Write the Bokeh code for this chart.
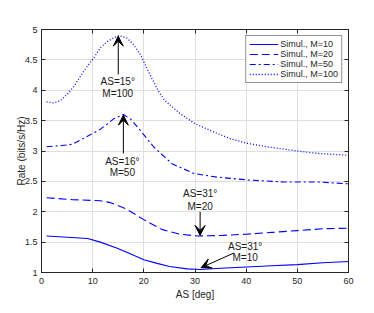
from bokeh.plotting import figure
from bokeh.models import (Range1d, LinearAxis, Arrow, VeeHead, Legend, LegendItem,
                          CustomJSTickFormatter, FixedTicker, ColumnDataSource)
from bokeh.core.properties import value
from bokeh.embed import file_html
from bokeh.resources import INLINE

# ---- data ----
as_10 = [1, 5, 9, 11.5, 14.8, 17, 20, 22.6, 25, 28.5, 31, 35, 40, 45, 50, 55, 60]
rate_10 = [1.6, 1.58, 1.56, 1.5, 1.4, 1.32, 1.21, 1.15, 1.1, 1.06, 1.05, 1.07, 1.09, 1.11, 1.13, 1.16, 1.18]

as_20 = [1, 6, 11.5, 13.5, 16.7, 20, 23.5, 27, 30.5, 35, 40, 45, 50, 55, 60]
rate_20 = [2.23, 2.2, 2.18, 2.15, 2.04, 1.87, 1.71, 1.63, 1.6, 1.61, 1.63, 1.66, 1.69, 1.72, 1.73]

as_50 = [1, 4, 6, 9.6, 11.5, 12.8, 14.1, 16, 17.5, 19.3, 21.9, 25.5, 29.8, 34.3, 40.8, 47.3, 53.8, 60]
rate_50 = [3.07, 3.09, 3.11, 3.27, 3.36, 3.44, 3.53, 3.6, 3.52, 3.34, 3.07, 2.79, 2.63, 2.57, 2.52, 2.49, 2.49, 2.46]

as_100 = [1, 2.4, 3.7, 5, 6.3, 7.6, 8.9, 10.2, 11.5, 12.8, 14.1, 15.1, 16.7, 18, 19.3, 21.3, 22.9,
          24, 27, 30, 34.3, 37, 40, 44, 50, 54, 60]
rate_100 = [3.81, 3.79, 3.83, 3.93, 4.06, 4.23, 4.39, 4.53, 4.7, 4.8, 4.86, 4.9, 4.86, 4.75, 4.59, 4.24, 3.98,
            3.84, 3.62, 3.45, 3.29, 3.2, 3.13, 3.07, 3.0, 2.96, 2.93]

series_labels = ["Simul., M=10", "Simul., M=20", "Simul., M=50", "Simul., M=100"]

x_ticks = [0, 10, 20, 30, 40, 50, 60]
y_ticks = [1, 1.5, 2, 2.5, 3, 3.5, 4, 4.5, 5]

# annotations: text lines and arrows (data coordinates)
ann_text = ["AS=15°", "M=100", "AS=16°", "M=50", "AS=31°", "M=20", "AS=31°", "M=10"]
ann_x = [14.9, 14.9, 15.8, 15.8, 31, 31, 39.8, 39.8]
ann_y = [4.14, 3.95, 2.83, 2.65, 2.30, 2.09, 1.43, 1.24]
arr_x0 = [15, 16, 31, 37.6]
arr_y0 = [4.26, 2.96, 2.0, 1.32]
arr_x1 = [15, 16, 31, 31.2]
arr_y1 = [4.89, 3.59, 1.61, 1.08]

FONT = "Liberation Sans"
AX = "#262626"
BLUE = "#0000ff"

p = figure(frame_width=307, frame_height=243, output_backend="svg", toolbar_location=None,
           x_range=Range1d(0, 60), y_range=Range1d(1, 5),
           min_border_left=41, min_border_right=10, min_border_top=29, min_border_bottom=30)
p.background_fill_color = "white"
p.border_fill_color = "white"
p.outline_line_color = AX
p.outline_line_width = 1

for ax in (p.xaxis[0], p.yaxis[0]):
    ax.major_tick_in = 4
    ax.major_tick_out = 0
    ax.minor_tick_in = 0
    ax.minor_tick_out = 0
    ax.axis_line_color = AX
    ax.major_tick_line_color = AX
    ax.major_label_text_font = FONT
    ax.major_label_text_font_size = "9px"
    ax.major_label_text_color = AX
    ax.axis_label_text_font = FONT
    ax.axis_label_text_font_size = "10px"
    ax.axis_label_text_font_style = "normal"
    ax.axis_label_text_color = AX

p.xaxis[0].ticker = FixedTicker(ticks=x_ticks)
p.yaxis[0].ticker = FixedTicker(ticks=y_ticks)
p.xaxis[0].axis_label = "AS [deg]"
p.yaxis[0].axis_label = "Rate (bits/s/Hz)"
p.xaxis[0].major_label_standoff = 5
p.yaxis[0].major_label_standoff = 4
p.xaxis[0].axis_label_standoff = 2
p.yaxis[0].axis_label_standoff = -5

# box ticks on top and right
empty = CustomJSTickFormatter(code="return ''")
top = LinearAxis(ticker=FixedTicker(ticks=x_ticks), formatter=empty,
                 major_tick_in=4, major_tick_out=0, minor_tick_in=0, minor_tick_out=0,
                 axis_line_color=AX, major_tick_line_color=AX, major_label_standoff=0)
right = LinearAxis(ticker=FixedTicker(ticks=y_ticks), formatter=empty,
                   major_tick_in=4, major_tick_out=0, minor_tick_in=0, minor_tick_out=0,
                   axis_line_color=AX, major_tick_line_color=AX, major_label_standoff=0)
p.add_layout(top, "above")
p.add_layout(right, "right")

p.xgrid.ticker = FixedTicker(ticks=x_ticks)
p.ygrid.ticker = FixedTicker(ticks=y_ticks)
p.grid.grid_line_color = "#dfdfdf"
p.grid.grid_line_width = 1

r10 = p.line(as_10, rate_10, line_color=BLUE, line_width=1.1)
r20 = p.line(as_20, rate_20, line_color=BLUE, line_width=1.1, line_dash="8 4")
r50 = p.line(as_50, rate_50, line_color=BLUE, line_width=1.1, line_dash="6 3 2 3")
r100 = p.line(as_100, rate_100, line_color=BLUE, line_width=1.3, line_dash="1 2")

legend = Legend(items=[LegendItem(label=series_labels[0], renderers=[r10]),
                       LegendItem(label=series_labels[1], renderers=[r20]),
                       LegendItem(label=series_labels[2], renderers=[r50]),
                       LegendItem(label=series_labels[3], renderers=[r100])],
                location="top_right")
legend.margin = 6
legend.padding = 3
legend.spacing = 0
legend.glyph_width = 29
legend.glyph_height = 10
legend.label_height = 10
legend.label_standoff = 2
legend.label_text_font = FONT
legend.label_text_font_size = "9px"
legend.label_text_color = AX
legend.border_line_color = AX
legend.border_line_width = 1
legend.background_fill_alpha = 1
p.add_layout(legend)

src = ColumnDataSource(dict(x=ann_x, y=ann_y, t=ann_text))
p.text(x="x", y="y", text="t", source=src, text_font=value(FONT), text_font_size="10px",
       text_align="center", text_baseline="middle", text_color="#1a1a1a")

asrc = ColumnDataSource(dict(x0=arr_x0, y0=arr_y0, x1=arr_x1, y1=arr_y1))
p.add_layout(Arrow(x_start="x0", y_start="y0", x_end="x1", y_end="y1", source=asrc,
                   line_color="#000000", line_width=1,
                   end=VeeHead(size=10, fill_color="#000000", line_color="#000000")))

open("out.html", "w").write(file_html(p, INLINE))
